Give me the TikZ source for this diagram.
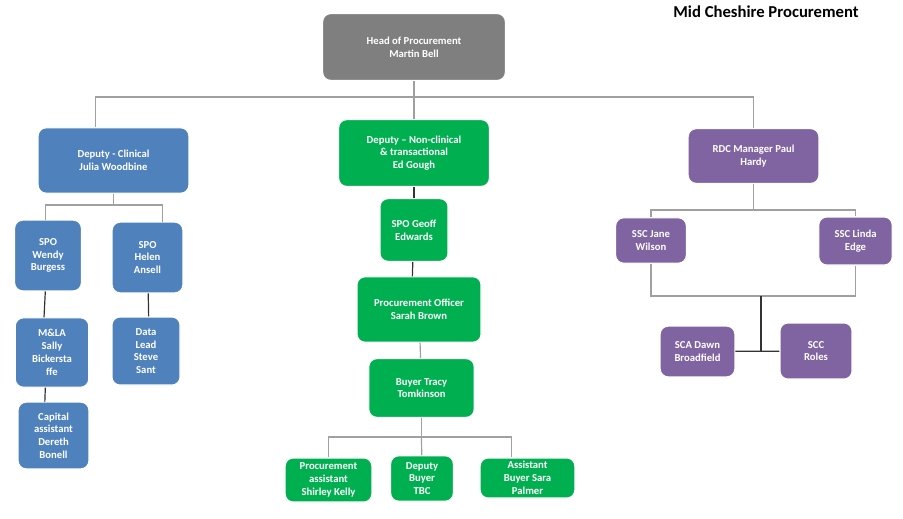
\documentclass[tikz,border=0pt]{standalone}
\usepackage{fontspec}
\setmainfont{Carlito}
\definecolor{grey1}{RGB}{127, 127, 127}
\definecolor{blue1}{RGB}{79, 129, 189}
\definecolor{green1}{RGB}{0, 176, 80}
\definecolor{purple1}{RGB}{128, 100, 162}
\definecolor{line1}{RGB}{160, 160, 160}
\tikzset{box/.style={rounded corners=6pt, draw=white, line width=0.8pt, text=white,
  font=\bfseries\fontsize{8}{9.6}\selectfont, align=center, inner sep=1pt},
  link/.style={line1, line width=0.9pt},
  dlink/.style={black!80, line width=0.9pt}}
\begin{document}
\begin{tikzpicture}[x=0.75pt, y=-0.75pt]
\useasboundingbox (0,0) rectangle (903,518);
\node[font=\bfseries\fontsize{12.5}{14}\selectfont] (title) at (766,12) {Mid Cheshire Procurement};
% top
\node[box, fill=grey1, minimum width=137pt, minimum height=50pt] (head) at (414,47) {Head of Procurement\\Martin Bell};
\node[box, fill=blue1, minimum width=113pt, minimum height=49pt] (dc) at (113.5,160.5) {Deputy - Clinical\\Julia Woodbine};
\node[box, fill=green1, minimum width=113pt, minimum height=50pt] (dn) at (414,153) {Deputy -- Non-clinical\\\& transactional\\Ed Gough};
\node[box, fill=purple1, minimum width=98pt, minimum height=41pt] (rdc) at (753.5,156) {RDC Manager Paul\\Hardy};
% clinical
\node[box, fill=blue1, minimum width=50pt, minimum height=53pt] (wendy) at (48,255.5) {SPO\\Wendy\\Burgess};
\node[box, fill=blue1, minimum width=53pt, minimum height=53pt] (helen) at (147.5,257.5) {SPO\\Helen\\Ansell};
\node[box, fill=blue1, minimum width=55pt, minimum height=52pt] (sally) at (52,352.5) {M\&LA\\Sally\\Bickersta\\ffe};
\node[box, fill=blue1, minimum width=51pt, minimum height=51pt] (steve) at (146,351) {Data\\Lead\\Steve\\Sant};
\node[box, fill=blue1, minimum width=53pt, minimum height=50pt] (dereth) at (53.5,435.5) {Capital\\assistant\\Dereth\\Bonell};
% non-clinical
\node[box, fill=green1, minimum width=51pt, minimum height=47pt] (geoff) at (414,230) {SPO Geoff\\Edwards};
\node[box, fill=green1, minimum width=93pt, minimum height=49pt] (sarah) at (419,309.5) {Procurement Officer\\Sarah Brown};
\node[box, fill=green1, minimum width=79pt, minimum height=44pt] (tracy) at (421.5,388) {Buyer Tracy\\Tomkinson};
\node[box, fill=green1, minimum width=65pt, minimum height=33pt] (shirley) at (328.5,480) {Procurement\\assistant\\Shirley Kelly};
\node[box, fill=green1, minimum width=47pt, minimum height=34pt] (tbc) at (422,478.5) {Deputy\\Buyer\\TBC};
\node[box, fill=green1, minimum width=71pt, minimum height=30pt] (sara) at (527.5,478) {Assistant\\Buyer Sara\\Palmer};
% RDC
\node[box, fill=purple1, minimum width=53pt, minimum height=34pt] (jane) at (651,240.5) {SSC Jane\\Wilson};
\node[box, fill=purple1, minimum width=55pt, minimum height=36pt] (linda) at (855.5,241) {SSC Linda\\Edge};
\node[box, fill=purple1, minimum width=56pt, minimum height=38pt] (dawn) at (697.5,351.5) {SCA Dawn\\Broadfield};
\node[box, fill=purple1, minimum width=54pt, minimum height=42pt] (roles) at (816,351) {SCC\\Roles};
% connectors
\coordinate (j1) at (414,97);
\coordinate (j2) at (113.5,205);
\coordinate (j3) at (421.5,437);
\coordinate (j4) at (753.5,210);
\coordinate (j5) at (761,296);
\draw[link] (head) -- (j1);
\draw[link] (j1) -| ([xshift=-13.5]dc.north);
\draw[link] (j1) -| (rdc);
\draw[link] (j1) -- (dn);
\draw[link] (dc) -- (j2);
\draw[link] (j2) -| ([xshift=-2]wendy.north);
\draw[link] (j2) -| ([xshift=11]helen.north);
\draw[dlink] ([xshift=-2]wendy.south) -- ([xshift=-6]sally.north);
\draw[dlink] ([xshift=-5]sally.south) -- ([xshift=-6.5]dereth.north);
\draw[dlink] (helen) -- ([xshift=2]steve.north);
\draw[dlink] (dn) -- (geoff);
\draw[dlink] (geoff) -- ([xshift=-5]sarah.north);
\draw[link] (sarah) -- (tracy);
\draw[link] (tracy) -- (j3);
\draw[link] (j3) -| (shirley);
\draw[link] (j3) -- (tbc);
\draw[link] (j3) -| ([xshift=-12]sara.north);
\draw[link] (rdc) -- (j4);
\draw[link] (j4) -| (jane);
\draw[link] (j4) -| (linda);
\draw[link] (jane) |- (j5);
\draw[link] (linda) |- (j5);
\draw[dlink] (j5) -- (j5 |- dawn.east);
\draw[dlink] (dawn) -- (roles);
\end{tikzpicture}
\end{document}
